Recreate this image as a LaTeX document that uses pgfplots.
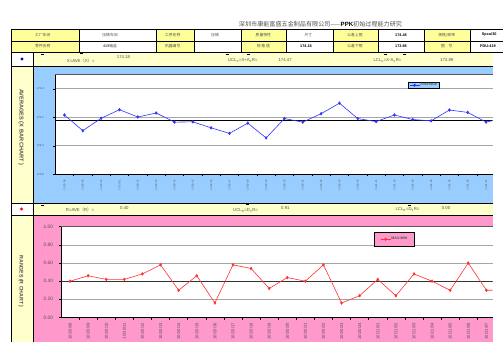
\documentclass[border=0pt]{standalone}
\usepackage{fontspec}
\setmainfont{Liberation Sans}
\newfontfamily\cjk{Noto Sans CJK SC}
\usepackage{pgfplots}
\pgfplotsset{compat=1.18}
\definecolor{cellY}{HTML}{FFFF99}
\definecolor{lightY}{HTML}{FFFFCC}
\definecolor{skyB}{HTML}{99CCFF}
\definecolor{pinkR}{HTML}{FF99CC}
\definecolor{lineB}{HTML}{3333FF}
\definecolor{lineR}{HTML}{FF3333}
\definecolor{txtG}{HTML}{505050}
\definecolor{gridG}{HTML}{A6A6A6}
\newcommand\cf{\cjk\fontsize{3.8}{4}\selectfont\color{txtG}}
\newcommand\nf{\fontsize{3.8}{4}\selectfont\bfseries}
\newcommand\rf{\fontsize{4.3}{5}\selectfont\color{txtG}}
\pgfplotsset{
  spcbase/.style={
    scale only axis, clip=true,
    axis x line*=bottom, axis y line*=left,
    axis line style={black,line width=0.9pt},
    xmin=-0.5,
    xtick={0,...,23},
    major x tick style={draw=none},
    minor xtick={0.5,1.5,...,23.5},
    tick align=outside, major tick length=2pt, minor tick length=2pt,
    every tick/.style={black,line width=0.5pt},
    ymajorgrids, grid style={gridG,line width=0.6pt},
    axis background/.style={fill=white},
    xticklabel style={rotate=90,anchor=east,text=txtG},
    yticklabel style={text=txtG,anchor=east},
    legend cell align=left,
    legend image code/.code={\draw[mark repeat=2,mark phase=2,##1] plot coordinates {(0pt,0pt)(5pt,0pt)(10pt,0pt)};},
  }
}
\begin{document}
\begin{tikzpicture}
\begin{scope}[x=1pt,y=-1pt]
% backgrounds
\fill[skyB] (33,66) rectangle (492.7,203);
\fill[pinkR] (33,215) rectangle (492.7,342);
\fill[lightY] (11,66) rectangle (33,203);
\fill[lightY] (11,215) rectangle (33,342);
\fill[lightY] (33,52) rectangle (492.7,66);
\fill[lightY] (33,203) rectangle (492.7,215);
\foreach \a/\b in {11/79,156/194,241/286,333/378,424/470}
  \fill[cellY] (\a,29) rectangle (\b,52);
% table lines
\foreach \y in {29,41,52} \draw[black,line width=0.7pt] (11,\y) -- (503,\y);
\foreach \x in {79,156,194,241,286,333,378,424,470} \draw[black,line width=0.7pt] (\x,29) -- (\x,52);
\draw[black,line width=0.7pt] (11,66) -- (492.7,66);
\draw[black,line width=0.7pt] (11,203) -- (492.7,203);
\draw[black,line width=0.7pt] (11,215) -- (492.7,215);
\draw[black,line width=0.7pt] (11,29) -- (11,342);
\draw[black,line width=0.7pt] (33,52) -- (33,342);
% title
\node[font=\cjk\fontsize{6.1}{7}\selectfont,text=txtG] at (320.5,24) {深圳市康能富盛五金制品有限公司——{\fontspec{Liberation Sans}\bfseries\color{black}PPK}初始过程能力研究};
% table text
\node[font=\cf] at (42.7,35) {工厂车间};
\node[font=\cf] at (110,35) {压铸车间};
\node[font=\cf] at (172.7,35) {工序名称};
\node[font=\cf] at (215,35) {压铸};
\node[font=\cf] at (263.3,35) {质量特性};
\node[font=\cf] at (308.3,35) {尺寸};
\node[font=\cf] at (355,35) {公差上限};
\node[font=\nf] at (401,35) {174.48};
\node[font=\cf] at (446.7,35) {规格/频率};
\node[font=\nf,anchor=west,inner sep=0pt] at (481.7,35) {Spcu/30};
\node[font=\cf] at (42.7,46.5) {零件名称};
\node[font=\cf] at (110,46.5) {{\fontspec{Liberation Sans}\bfseries 419}箱盖};
\node[font=\cf] at (172.7,46.5) {机器编号};
\node[font=\cf] at (263.3,46.5) {规\ 格\ 值};
\node[font=\nf] at (306,46.5) {174.18};
\node[font=\cf] at (355,46.5) {公差下限};
\node[font=\nf] at (401,46.5) {173.88};
\node[font=\cf] at (446.7,46.5) {图\quad 号};
\node[font=\nf,anchor=west,inner sep=0pt] at (480,46.5) {PDU-419};
% dots
\fill[blue!75!black] (22,59) circle (1.6);
\fill[red] (21.5,209) circle (1.6);
% row 3 (averages)
\node[font=\rf,anchor=west,inner sep=0pt] at (66.7,60.5) {X=AVE{\cjk （}X{\cjk ）}=};
\node[font=\rf,anchor=west,inner sep=0pt] at (116.7,57.5) {174.18};
\node[font=\rf,anchor=west,inner sep=0pt] at (227.7,60.5) {UCL\textsubscript{X}=X+A\textsubscript{2}R=};
\node[font=\rf,anchor=west,inner sep=0pt] at (278.3,60.5) {174.47};
\node[font=\rf,anchor=west,inner sep=0pt] at (373.3,60.5) {LCL\textsubscript{X}=X-A\textsubscript{2}R=};
\node[font=\rf,anchor=west,inner sep=0pt] at (440,60.5) {173.89};
\foreach \a/\b in {40.7/54.3,80/52.7,226/53.7,247.3/53.7,384/53.7,403.3/53.7}
  \fill[black] (\a,\b) rectangle ++(3,0.9);
% row R
\node[font=\rf,anchor=west,inner sep=0pt] at (65.7,210) {R=AVE{\cjk （}R{\cjk ）}=};
\node[font=\rf,anchor=west,inner sep=0pt] at (120,207.7) {0.40};
\node[font=\rf,anchor=west,inner sep=0pt] at (233,210) {UCL\textsubscript{R}=D\textsubscript{4}R=};
\node[font=\rf,anchor=west,inner sep=0pt] at (281,207.7) {0.91};
\node[font=\rf,anchor=west,inner sep=0pt] at (395.3,210) {LCL\textsubscript{R}=D\textsubscript{3}R=};
\node[font=\rf,anchor=west,inner sep=0pt] at (441.7,207.7) {0.00};
\foreach \a/\b in {41/204.8,246/204.3,407.7/204.5}
  \fill[black] (\a,\b) rectangle ++(3,0.9);
% vertical labels
\node[rotate=-90,font=\fontsize{5.6}{6}\selectfont\bfseries,text=txtG] at (21,127.5) {AVERAGES (X BAR CHART )};
\node[rotate=-90,font=\fontsize{5.2}{6}\selectfont\bfseries,text=txtG] at (21,281.5) {RANGES (R CHART )};
\end{scope}

% ---------------- Averages chart
\begin{axis}[spcbase,
  at={(55.3pt,-174.3pt)}, anchor=south west,
  width=437.4pt, height=99.8pt,
  xmax=23.36, ymin=173.8, ymax=174.5,
  ytick={173.8,174.0,174.2,174.4},
  yticklabels={173.8,174.0,174.2,174.4},
  yticklabel style={font=\fontsize{2.8}{3}\selectfont,xshift=-6pt},
  xticklabel style={font=\fontsize{2.6}{3}\selectfont},
  xticklabels={10-20-08,10-20-09,10-20-10,10-20-11,10-20-12,10-20-13,10-20-14,10-20-15,10-20-16,10-20-17,10-20-18,10-20-19,10-20-20,10-20-21,10-20-22,10-20-23,10-20-24,10-21-01,10-21-02,10-21-03,10-21-04,10-21-05,10-21-06,10-21-07},
  legend style={at={(0.8063,0.928)},anchor=north west,fill=skyB,draw=black,line width=0.6pt,
    font=\fontsize{3.5}{4}\selectfont\bfseries,text=txtG,inner xsep=1pt,inner ysep=0.6pt,
    nodes={inner sep=0.6pt}},
]
\addplot[black,line width=0.8pt,forget plot] coordinates {(-0.5,174.18) (25,174.18)};
\addplot[lineB,line width=0.6pt,mark=diamond*,mark size=1.3pt,mark options={solid}] coordinates {
(0,174.216) (1,174.106) (2,174.193) (3,174.253) (4,174.202) (5,174.230)
(6,174.166) (7,174.168) (8,174.126) (9,174.087) (10,174.159) (11,174.055)
(12,174.191) (13,174.166) (14,174.225) (15,174.299) (16,174.191) (17,174.170)
(18,174.216) (19,174.184) (20,174.175) (21,174.251) (22,174.234) (23,174.166)
(24,174.196)};
\addlegendentry{AVERAGE}
\end{axis}
\draw[gray!70!black,line width=0.6pt] (55.3pt,-74.5pt) -- (492.7pt,-74.5pt);

% ---------------- Ranges chart
\begin{axis}[spcbase,
  at={(61pt,-317.5pt)}, anchor=south west,
  width=431.7pt, height=90.8pt,
  xmax=23.35, ymin=0, ymax=1,
  ytick={0,0.2,0.4,0.6,0.8,1.0},
  yticklabels={0.00,0.20,0.40,0.60,0.80,1.00},
  yticklabel style={font=\fontsize{4.8}{5}\selectfont,xshift=-2.4pt},
  xticklabel style={font=\fontsize{4.2}{5}\selectfont},
  xticklabels={10/20/08,10/20/09,10/20/10,10/20/11,10/20/12,10/20/13,10/20/14,10/20/15,10/20/16,10/20/17,10/20/18,10/20/19,10/20/20,10/20/21,10/20/22,10/20/23,10/20/24,10/21/01,10/21/02,10/21/03,10/21/04,10/21/05,10/21/06,10/21/07},
  legend style={at={(0.725,0.938)},anchor=north west,fill=pinkR,draw=black,line width=0.6pt,
    font=\fontsize{3.6}{4}\selectfont\bfseries,text=txtG,inner xsep=6pt,inner ysep=4pt,
    nodes={inner sep=0.6pt}},
]
\addplot[black!80,line width=1pt,forget plot] coordinates {(-0.5,0.40) (25,0.40)};
\addplot[lineR,line width=0.6pt,mark=diamond*,mark size=1.3pt,mark options={solid}] coordinates {
(0,0.40) (1,0.46) (2,0.42) (3,0.42) (4,0.48) (5,0.58)
(6,0.30) (7,0.46) (8,0.16) (9,0.58) (10,0.54) (11,0.32)
(12,0.44) (13,0.40) (14,0.58) (15,0.16) (16,0.24) (17,0.42)
(18,0.24) (19,0.48) (20,0.40) (21,0.30) (22,0.60) (23,0.30)
(24,0.30)};
\addlegendentry{MAX-MIN}
\end{axis}
\draw[gray!70!black,line width=0.6pt] (61pt,-226.7pt) -- (492.7pt,-226.7pt);

\pgfresetboundingbox
\path[use as bounding box] (0,0) rectangle (503pt,-356pt);
\end{tikzpicture}
\end{document}
